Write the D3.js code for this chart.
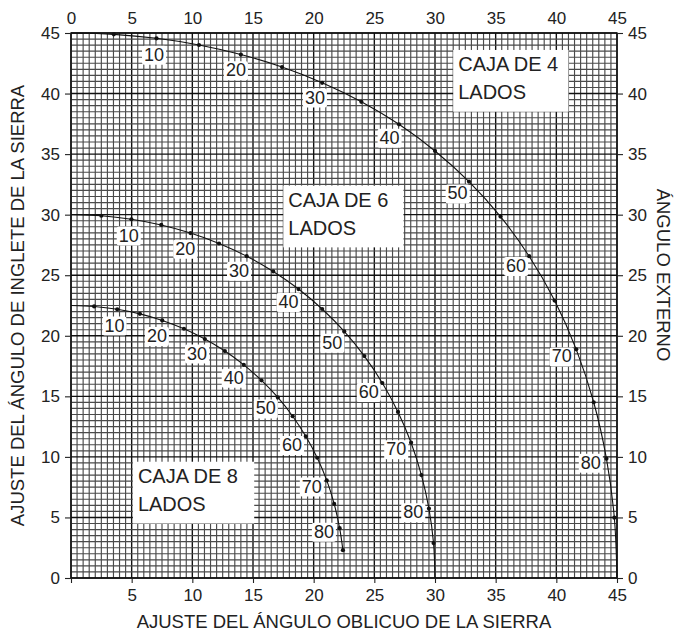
<!DOCTYPE html>
<html><head><meta charset="utf-8">
<script src="https://cdn.jsdelivr.net/npm/d3@7"></script>
<style>body{margin:0;background:#fff}svg{display:block}text{font-family:"Liberation Sans",Arial,sans-serif;fill:#222}</style>
</head><body><svg id="c" width="679" height="637"></svg>
<script>
// tilt (slope) angle of the box sides, one dot every 5 degrees
const tilt = [0,5,10,15,20,25,30,35,40,45,50,55,60,65,70,75,80,85,90];
// 4-sided box: blade bevel (x) and miter (y)
const bevel4 = [0,3.53,7.05,10.55,14.0,17.39,20.7,23.93,27.03,30.0,32.8,35.4,37.76,39.86,41.64,43.08,44.13,44.78,45];
const miter4 = [45,44.89,44.56,44.01,43.22,42.19,40.89,39.32,37.46,35.26,32.73,29.84,26.57,22.91,18.88,14.51,9.85,4.98,0];
// 6-sided box
const bevel6 = [0,2.5,4.98,7.44,9.85,12.2,14.48,16.67,18.75,20.7,22.52,24.18,25.66,26.95,28.03,28.88,29.5,29.88,30];
const miter6 = [30,29.91,29.62,29.15,28.48,27.62,26.57,25.31,23.86,22.21,20.36,18.32,16.1,13.71,11.17,8.5,5.73,2.88,0];
// 8-sided box (curve ends at the 85 degree dot)
const bevel8 = [0,1.91,3.81,5.68,7.52,9.31,11.03,12.68,14.24,15.7,17.05,18.27,19.35,20.29,21.08,21.69,22.14,22.41];
const miter8 = [22.5,22.42,22.19,21.81,21.27,20.58,19.73,18.74,17.6,16.32,14.91,13.36,11.7,9.93,8.06,6.12,4.11,2.3];
const labelAngles = [10,20,30,40,50,60,70,80];
const axisTicks = [0,5,10,15,20,25,30,35,40,45];
const boxNames = ["CAJA DE 4","CAJA DE 6","CAJA DE 8"];
const boxSub = "LADOS";
const xTitle = "AJUSTE DEL ÁNGULO OBLICUO DE LA SIERRA";
const yTitle = "AJUSTE DEL ÁNGULO DE INGLETE DE LA SIERRA";
const y2Title = "ÁNGULO EXTERNO";

const svg = d3.select("#c");
const L=71,R=617,T=33,B=578;
const x = d3.scaleLinear([0,45],[L,R]);
const y = d3.scaleLinear([0,45],[B,T]);

// grid
const g = svg.append("g");
const minor = d3.range(0,45.01,0.5);
g.selectAll("line.v").data(minor).join("line")
  .attr("x1",d=>x(d)).attr("x2",d=>x(d)).attr("y1",T).attr("y2",B)
  .attr("stroke",d=>d%5===0?"#111":"#4a4a4a").attr("stroke-width",d=>d%5===0?1.4:1.15);
g.selectAll("line.h").data(minor).join("line")
  .attr("y1",d=>y(d)).attr("y2",d=>y(d)).attr("x1",L).attr("x2",R)
  .attr("stroke",d=>d%5===0?"#111":"#4a4a4a").attr("stroke-width",d=>d%5===0?1.4:1.15);
svg.append("rect").attr("x",L).attr("y",T).attr("width",R-L).attr("height",B-T)
  .attr("fill","none").attr("stroke","#111").attr("stroke-width",1.4);

// box name labels (white boxes)
const boxes = [
  {name:boxNames[0], x0:31.5, x1:41, y0:38.5, y1:43.6},
  {name:boxNames[1], x0:17.5, x1:27.4, y0:27.3, y1:32.4},
  {name:boxNames[2], x0:5.1, x1:15.1, y0:4.5, y1:9.6}
];
boxes.forEach(b=>{
  svg.append("rect").attr("x",x(b.x0)).attr("y",y(b.y1)).attr("width",x(b.x1)-x(b.x0)).attr("height",y(b.y0)-y(b.y1)).attr("fill","#fff");
  svg.append("text").attr("x",x(b.x0)+5).attr("y",y(b.y1)+21).attr("font-size",20).text(b.name);
  svg.append("text").attr("x",x(b.x0)+5).attr("y",y(b.y1)+49).attr("font-size",20).text(boxSub);
});

// curves
const series = [[bevel4,miter4],[bevel6,miter6],[bevel8,miter8]];
const line = d3.line().x(d=>x(d[0])).y(d=>y(d[1])).curve(d3.curveCatmullRom);
series.forEach(([bx,my])=>{
  const pts = bx.map((v,i)=>[v,my[i],tilt[i]]);
  svg.append("path").attr("d",line(pts)).attr("fill","none").attr("stroke","#111").attr("stroke-width",1.1);
  svg.append("g").selectAll("circle").data(pts.filter(p=>p[2]>0&&p[2]<90)).join("circle")
    .attr("cx",d=>x(d[0])).attr("cy",d=>y(d[1])).attr("r",2.1).attr("fill","#111");
  // angle labels placed toward the origin
  pts.filter(p=>labelAngles.includes(p[2])).forEach(p=>{
    const px=x(p[0]), py=y(p[1]);
    const dx=x(0)-px, dy=y(0)-py, m=Math.hypot(dx,dy);
    const cx=px+dx/m*16, cy=py+dy/m*16;
    const grp = svg.append("g");
    const rect = grp.append("rect").attr("fill","#fff").attr("rx",2);
    const t = grp.append("text").attr("x",cx).attr("y",cy+6.5).attr("text-anchor","middle").attr("font-size",18).text(p[2]);
    const bb = t.node().getBBox();
    rect.attr("x",bb.x-2).attr("y",bb.y+1).attr("width",bb.width+4).attr("height",bb.height-1);
  });
});

// axes
const ax = (a)=>a.tickValues(axisTicks).tickSizeOuter(0);
const axL = svg.append("g").attr("transform",`translate(${L},0)`).call(ax(d3.axisLeft(y)).tickSize(6).tickPadding(5));
const axR = svg.append("g").attr("transform",`translate(${R},0)`).call(ax(d3.axisRight(y)).tickSize(6).tickPadding(5));
const axB = svg.append("g").attr("transform",`translate(0,${B})`).call(ax(d3.axisBottom(x)).tickSize(5).tickPadding(6).tickFormat(d=>d===0?"":d));
const axT = svg.append("g").attr("transform",`translate(0,${T})`).call(ax(d3.axisTop(x)).tickSize(0).tickPadding(9));
[axL,axR,axB,axT].forEach(a=>{
  a.select(".domain").remove();
  a.selectAll("line").attr("stroke","#222").attr("stroke-width",1.1);
  a.selectAll("text").attr("font-size",17).attr("font-family",'"Liberation Sans",Arial,sans-serif').attr("fill","#222");
});

// titles
svg.append("text").attr("x",(L+R)/2).attr("y",628).attr("text-anchor","middle").attr("font-size",18.5).text(xTitle);
svg.append("text").attr("transform",`translate(24,${(T+B)/2}) rotate(-90)`).attr("text-anchor","middle").attr("font-size",18.5).text(yTitle);
svg.append("text").attr("transform",`translate(657,275) rotate(90)`).attr("text-anchor","middle").attr("font-size",18.5).text(y2Title);
</script></body></html>
